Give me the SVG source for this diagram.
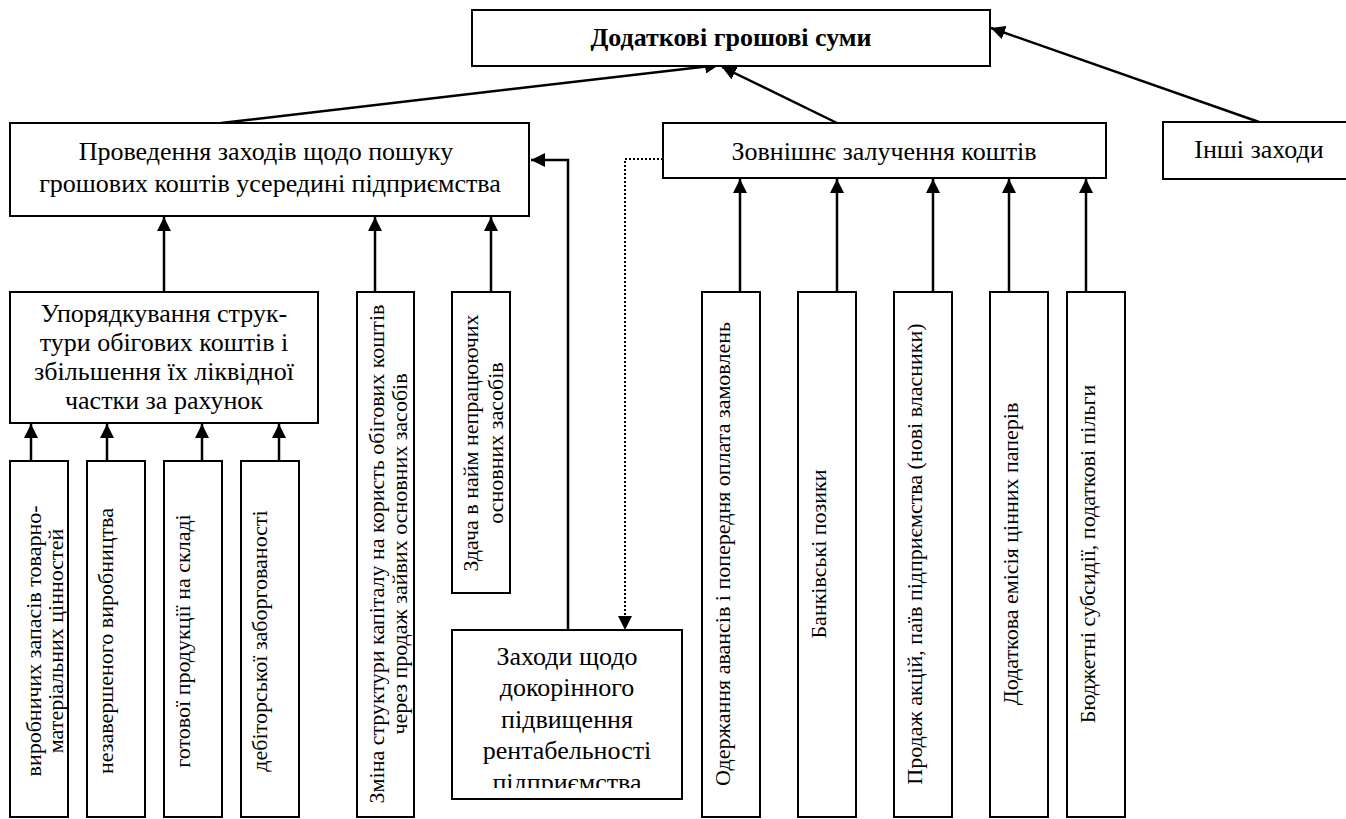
<svg xmlns="http://www.w3.org/2000/svg" width="1346" height="819" viewBox="0 0 1346 819">
<defs>
<style>
.box{fill:#fff;stroke:#000;stroke-width:2}
.t{font-family:'Liberation Serif','Times New Roman','DejaVu Serif',serif;font-size:26px;text-anchor:middle;fill:#000}
.b{font-weight:bold}
.v{font-size:22px}
.c{stroke:#000;stroke-width:2.5;fill:none}
.d{stroke:#000;stroke-width:2;fill:none;stroke-dasharray:2 2}
</style>
<marker id="ah" viewBox="0 0 14 14" refX="14" refY="7" markerWidth="14" markerHeight="14" markerUnits="userSpaceOnUse" orient="auto">
<path d="M0,0 L14,7 L0,14 z" fill="#000"/>
</marker>
<clipPath id="clipM"><rect x="452" y="630" width="230" height="158"/></clipPath>
</defs>
<rect width="1346" height="819" fill="#fff"/>

<g id="connectors">
<line class="c" x1="221" y1="123" x2="719" y2="65" marker-end="url(#ah)"/>
<line class="c" x1="837" y1="123" x2="722" y2="67" marker-end="url(#ah)"/>
<line class="c" x1="1259" y1="122" x2="991" y2="28" marker-end="url(#ah)"/>
<path class="c" d="M568,630 V160 H531" marker-end="url(#ah)"/>
<path class="d" d="M663,159 H625 V630" marker-end="url(#ah)"/>
<line class="c" x1="164" y1="292" x2="164" y2="217" marker-end="url(#ah)"/>
<line class="c" x1="375" y1="292" x2="375" y2="217" marker-end="url(#ah)"/>
<line class="c" x1="491" y1="292" x2="491" y2="217" marker-end="url(#ah)"/>
<line class="c" x1="31" y1="461" x2="31" y2="424" marker-end="url(#ah)"/>
<line class="c" x1="107" y1="461" x2="107" y2="424" marker-end="url(#ah)"/>
<line class="c" x1="202" y1="461" x2="202" y2="424" marker-end="url(#ah)"/>
<line class="c" x1="279" y1="461" x2="279" y2="424" marker-end="url(#ah)"/>
<line class="c" x1="740" y1="292" x2="740" y2="179" marker-end="url(#ah)"/>
<line class="c" x1="837" y1="292" x2="837" y2="179" marker-end="url(#ah)"/>
<line class="c" x1="933" y1="292" x2="933" y2="179" marker-end="url(#ah)"/>
<line class="c" x1="1009" y1="292" x2="1009" y2="179" marker-end="url(#ah)"/>
<line class="c" x1="1086" y1="292" x2="1086" y2="179" marker-end="url(#ah)"/>
</g>

<g id="n-top">
<rect class="box" x="472" y="10" width="518" height="56"/>
<text class="t b" x="731" y="46" font-family="Liberation Serif">Додаткові грошові суми</text>
</g>

<g id="n-internal" font-family="Liberation Serif">
<rect class="box" x="10" y="123" width="519" height="93"/>
<text class="t" x="266" y="160">Проведення заходів щодо пошуку</text>
<text class="t" x="270" y="192">грошових коштів усередині підприємства</text>
</g>

<g id="n-external">
<rect class="box" x="663" y="123" width="443" height="55"/>
<text class="t" x="884" y="160">Зовнішнє залучення коштів</text>
</g>

<g id="n-other">
<rect class="box" x="1163" y="122" width="190" height="57"/>
<text class="t" x="1259" y="158">Інші заходи</text>
</g>

<g id="n-order">
<rect class="box" x="10" y="292" width="308" height="131"/>
<text class="t" x="164" y="322">Упорядкування струк-</text>
<text class="t" x="164" y="351">тури обігових коштів і</text>
<text class="t" x="164" y="380">збільшення їх ліквідної</text>
<text class="t" x="164" y="409">частки за рахунок</text>
</g>

<g id="n-stocks">
<rect class="box" x="10" y="461" width="58" height="356"/>
<text class="t v" transform="translate(41,641) rotate(-90)">виробничих запасів товарно-</text>
<text class="t v" transform="translate(63,641) rotate(-90)">матеріальних цінностей</text>
</g>

<g id="n-wip">
<rect class="box" x="87" y="461" width="58" height="356"/>
<text class="t v" transform="translate(113,641) rotate(-90)">незавершеного виробництва</text>
</g>

<g id="n-goods">
<rect class="box" x="164" y="461" width="58" height="356"/>
<text class="t v" transform="translate(190,641) rotate(-90)">готової продукції на складі</text>
</g>

<g id="n-receivables">
<rect class="box" x="241" y="461" width="58" height="356"/>
<text class="t v" transform="translate(267,641) rotate(-90)">дебіторської заборгованості</text>
</g>

<g id="n-capital">
<rect class="box" x="357" y="292" width="57" height="525"/>
<text class="t v" transform="translate(384,554) rotate(-90)">Зміна структури капіталу на користь обігових коштів</text>
<text class="t v" transform="translate(407,554) rotate(-90)">через продаж зайвих основних засобів</text>
</g>

<g id="n-lease">
<rect class="box" x="452" y="292" width="58" height="301"/>
<text class="t v" transform="translate(478,443) rotate(-90)">Здача в найм непрацюючих</text>
<text class="t v" transform="translate(503,443) rotate(-90)">основних засобів</text>
</g>

<g id="n-profit">
<rect class="box" x="452" y="630" width="230" height="169"/>
<g clip-path="url(#clipM)">
<text class="t" x="567" y="665">Заходи щодо</text>
<text class="t" x="567" y="696">докорінного</text>
<text class="t" x="567" y="728">підвищення</text>
<text class="t" x="567" y="759">рентабельності</text>
<text class="t" x="567" y="791">підприємства</text>
</g>
</g>

<g id="n-advances">
<rect class="box" x="702" y="292" width="58" height="525"/>
<text class="t v" transform="translate(730,554) rotate(-90)">Одержання авансів і попередня оплата замовлень</text>
</g>

<g id="n-loans">
<rect class="box" x="798" y="292" width="58" height="525"/>
<text class="t v" transform="translate(826,554) rotate(-90)">Банківські позики</text>
</g>

<g id="n-shares">
<rect class="box" x="894" y="292" width="58" height="525"/>
<text class="t v" transform="translate(922,554) rotate(-90)">Продаж акцій, паїв підприємства (нові власники)</text>
</g>

<g id="n-emission">
<rect class="box" x="990" y="292" width="58" height="525"/>
<text class="t v" transform="translate(1018,554) rotate(-90)">Додаткова емісія цінних паперів</text>
</g>

<g id="n-subsidies">
<rect class="box" x="1067" y="292" width="58" height="525"/>
<text class="t v" transform="translate(1095,554) rotate(-90)">Бюджетні субсидії, податкові пільги</text>
</g>
</svg>
